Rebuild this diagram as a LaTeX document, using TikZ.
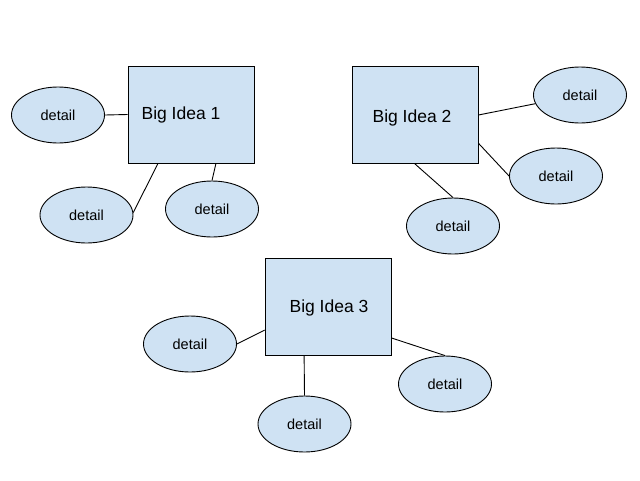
\documentclass[tikz,border=0pt]{standalone}
\usepackage{fontspec}
\setmainfont{Liberation Sans}
\usepackage{tikz}
\usetikzlibrary{shapes.geometric}
\definecolor{ideablue}{HTML}{CFE2F3}

\begin{document}
\begin{tikzpicture}[
  x=1pt, y=-1pt,
  idea/.style={draw, fill=ideablue, rectangle, line width=0.9pt, minimum width=126pt, minimum height=97pt, inner sep=0pt},
  ideatext/.style={font=\fontsize{17.5}{20}\selectfont, inner sep=0pt},
  detail/.style={draw, fill=ideablue, ellipse, line width=0.9pt, minimum width=93pt, minimum height=56pt, inner sep=0pt, font=\fontsize{14.5}{17}\selectfont},
  link/.style={line width=0.9pt}
]
\useasboundingbox (0,0) rectangle (640,480);

% big ideas
\node[idea] (B1) at (191,114.5) {};
\node[ideatext] (T1) at (181,115) {Big Idea 1};
\node[idea] (B2) at (415,115) {};
\node[ideatext] (T2) at (412,118) {Big Idea 2};
\node[idea] (B3) at (328,307) {};
\node[ideatext] (T3) at (329,308) {Big Idea 3};

% details
\node[detail] (D1) at (58,115)    {detail};
\node[detail] (D2) at (86.5,215)  {detail};
\node[detail] (D3) at (212,209)   {detail};
\node[detail] (D4) at (580,95)    {detail};
\node[detail] (D5) at (556,176)   {detail};
\node[detail] (D6) at (453,226)   {detail};
\node[detail] (D7) at (190,344)   {detail};
\node[detail] (D8) at (445,384)   {detail};
\node[detail] (D9) at (304.5,424) {detail};

\draw[link] (D1.east) -- (B1.west);
\draw[link] (D2.3) -- (B1.236);
\draw[link] (D3.north) -- (B1.297);

\draw[link] (B2.east) -- (D4.191);
\draw[link] (B2.336) -- (D5.west);
\draw[link] (B2.south) -- (D6.north);

\draw[link] (D7.east) -- (B3.200);
\draw[link] (B3.334) -- (D8.north);
\draw[link] (B3.244) -- (D9.north);
\end{tikzpicture}
\end{document}
